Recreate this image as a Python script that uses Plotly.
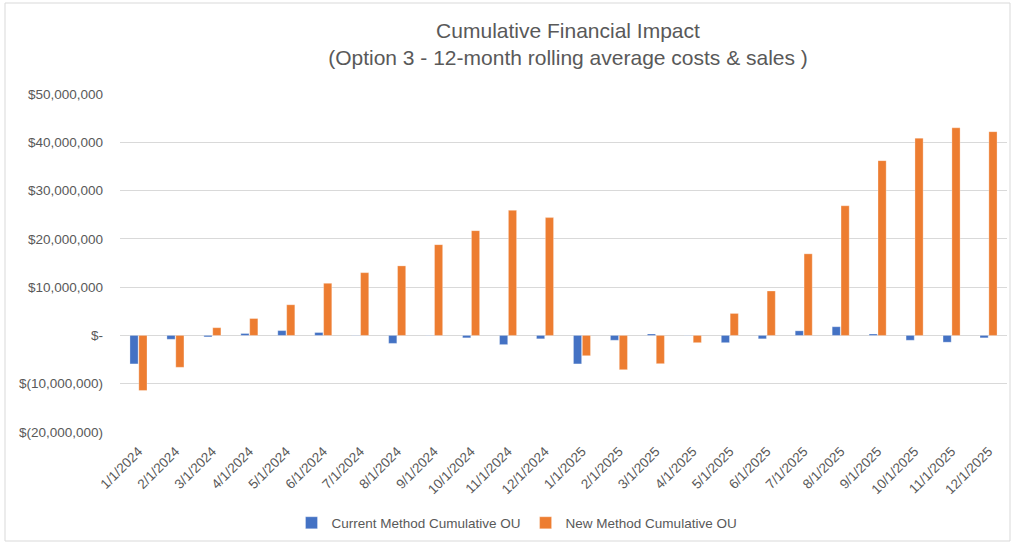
import plotly.graph_objects as go

categories = ["1/1/2024", "2/1/2024", "3/1/2024", "4/1/2024", "5/1/2024", "6/1/2024",
              "7/1/2024", "8/1/2024", "9/1/2024", "10/1/2024", "11/1/2024", "12/1/2024",
              "1/1/2025", "2/1/2025", "3/1/2025", "4/1/2025", "5/1/2025", "6/1/2025",
              "7/1/2025", "8/1/2025", "9/1/2025", "10/1/2025", "11/1/2025", "12/1/2025"]

current_method = [-5_900_000, -800_000, -300_000, 400_000, 1_000_000, 600_000,
                  50_000, -1_650_000, 50_000, -500_000, -1_900_000, -700_000,
                  -5_900_000, -1_000_000, 300_000, 50_000, -1_500_000, -700_000,
                  950_000, 1_800_000, 300_000, -1_000_000, -1_400_000, -500_000]

new_method = [-11_400_000, -6_600_000, 1_600_000, 3_500_000, 6_350_000, 10_800_000,
              13_000_000, 14_400_000, 18_800_000, 21_700_000, 25_900_000, 24_400_000,
              -4_200_000, -7_100_000, -5_850_000, -1_500_000, 4_550_000, 9_200_000,
              16_900_000, 26_850_000, 36_200_000, 40_850_000, 43_000_000, 42_200_000]

y_tick_vals = [50_000_000, 40_000_000, 30_000_000, 20_000_000, 10_000_000, 0,
               -10_000_000, -20_000_000]
y_tick_text = ["$50,000,000", "$40,000,000", "$30,000,000", "$20,000,000",
               "$10,000,000", "$-", "$(10,000,000)", "$(20,000,000)"]

FONT = "Liberation Sans"
GREY = "#595959"

fig = go.Figure()
fig.add_trace(go.Bar(x=categories, y=current_method, name="Current Method Cumulative OU",
                     marker=dict(color="#4472C4", line=dict(color="rgba(255,255,255,0.6)", width=0.5))))
fig.add_trace(go.Bar(x=categories, y=new_method, name="New Method Cumulative OU",
                     marker=dict(color="#ED7D31", line=dict(color="rgba(255,255,255,0.6)", width=0.5))))

W, H = 1013, 544
L, R, T, B = 120, 6, 94, 112
pw, ph = W - L - R, H - T - B

def px_x(v):
    return (v - L) / pw

def px_y(v):
    return (H - B - v) / ph

fig.update_layout(
    width=W, height=H,
    margin=dict(l=L, r=R, t=T, b=B),
    paper_bgcolor="white", plot_bgcolor="white",
    barmode="group", bargap=0.52, bargroupgap=0.08,
    font=dict(family=FONT, color=GREY, size=13.5),
    title=dict(text="Cumulative Financial Impact<br>(Option 3 - 12-month rolling average costs & sales )",
               xref="container", yref="container",
               x=568 / W, xanchor="center", y=1 - 38 / H, yanchor="middle",
               font=dict(family=FONT, size=21, color=GREY)),
    xaxis=dict(type="category", tickangle=-45, showgrid=False, showline=False,
               ticks="", ticklabelstandoff=8, tickfont=dict(size=13.5, color=GREY)),
    yaxis=dict(range=[-20_000_000, 50_000_000], tickvals=y_tick_vals, ticktext=y_tick_text,
               showgrid=True, gridcolor="#D9D9D9", gridwidth=1,
               zeroline=True, zerolinecolor="#D9D9D9", zerolinewidth=1,
               showline=False, ticks="", ticklabelstandoff=16,
               tickfont=dict(size=13.5, color=GREY)),
    legend=dict(orientation="h", x=px_x(517), xanchor="center", y=px_y(523), yanchor="middle",
                bgcolor="rgba(0,0,0,0)",
                font=dict(size=13.5, color=GREY), itemwidth=30, traceorder="normal"),
    shapes=[dict(type="rect", xref="paper", yref="paper",
                 x0=px_x(5), x1=px_x(1010), y0=px_y(541), y1=px_y(3),
                 line=dict(color="#D9D9D9", width=1), fillcolor="rgba(0,0,0,0)", layer="below")],
)

fig.write_html("out.html", config={"displayModeBar": False},
               post_script="document.body.style.margin='0px';document.body.style.padding='0px';")
